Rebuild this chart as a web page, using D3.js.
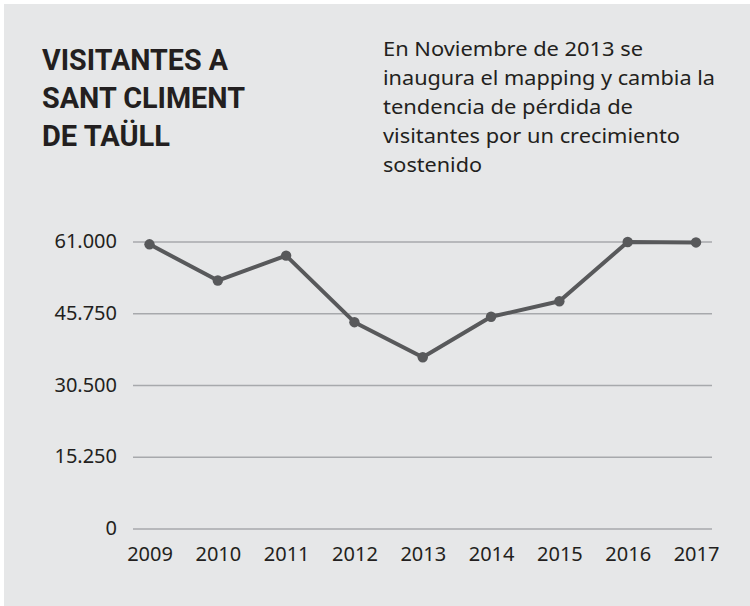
<!DOCTYPE html>
<html>
<head>
<meta charset="utf-8">
<script src="https://cdn.jsdelivr.net/npm/d3@7"></script>
<style>
  html, body { margin: 0; padding: 0; background: #ffffff; }
  svg { display: block; }
</style>
</head>
<body>
<svg id="chart" width="750" height="606"></svg>
<script>
// Annual visitors, Sant Climent de Taüll
const years = ["2009", "2010", "2011", "2012", "2013", "2014", "2015", "2016", "2017"];
const visitors = [60400, 52700, 58000, 43850, 36400, 45000, 48300, 60900, 60800];
const yTicks = [0, 15250, 30500, 45750, 61000];
const titleLines = ["VISITANTES A", "SANT CLIMENT", "DE TAÜLL"];
const noteLines = [
  "En Noviembre de 2013 se",
  "inaugura el mapping y cambia la",
  "tendencia de pérdida de",
  "visitantes por un crecimiento",
  "sostenido"
];

const svg = d3.select("#chart");
const bodyFont = "'Noto Sans', 'Open Sans', sans-serif";
const ink = "#231f20";

// panel background
svg.append("rect")
  .attr("x", 4).attr("y", 4)
  .attr("width", 746).attr("height", 602)
  .attr("fill", "#e6e7e8");

// title block
const titleWidths = [186, 203, 128];
svg.append("g").selectAll("text")
  .data(titleLines)
  .join("text")
  .attr("x", 42)
  .attr("y", (d, i) => 70 + i * 37.8)
  .attr("font-family", "Roboto, 'Liberation Sans', sans-serif")
  .attr("font-weight", 700)
  .attr("font-size", 29)
  .attr("fill", ink)
  .attr("textLength", (d, i) => titleWidths[i])
  .attr("lengthAdjust", "spacingAndGlyphs")
  .text(d => d);

// explanatory note
const noteWidths = [260, 332, 250, 297, 99];
svg.append("g").selectAll("text")
  .data(noteLines)
  .join("text")
  .attr("x", 383)
  .attr("y", (d, i) => 56 + i * 29)
  .attr("font-family", bodyFont)
  .attr("font-size", 20)
  .attr("fill", ink)
  .attr("textLength", (d, i) => noteWidths[i])
  .attr("lengthAdjust", "spacingAndGlyphs")
  .text(d => d);

// scales
const x = d3.scalePoint().domain(years).range([149.5, 696]);
const y = d3.scaleLinear().domain([0, 61000]).range([528.5, 241.5]);
const gridLeft = 133, gridRight = 712;

const fmt = v => d3.format(",")(v).replace(/,/g, ".");

// horizontal gridlines and value labels
const yAxis = d3.axisLeft(y)
  .tickValues(yTicks)
  .tickSize(-(gridRight - gridLeft))
  .tickPadding(16)
  .tickFormat(fmt);

const gy = svg.append("g")
  .attr("transform", `translate(${gridLeft},0)`)
  .call(yAxis);
gy.select(".domain").remove();
gy.selectAll(".tick line")
  .attr("stroke", "#a7a9ac")
  .attr("stroke-width", 1.6);
gy.selectAll(".tick text")
  .attr("font-family", bodyFont)
  .attr("font-size", 20)
  .attr("fill", ink)
  .attr("dy", "0.3em");

// year labels
const xAxis = d3.axisBottom(x).tickSize(0).tickPadding(0);
const gx = svg.append("g")
  .attr("transform", `translate(0,${y(0)})`)
  .call(xAxis);
gx.select(".domain").remove();
gx.selectAll(".tick text")
  .attr("font-family", bodyFont)
  .attr("font-size", 20)
  .attr("fill", ink)
  .attr("dy", null)
  .attr("y", 32);

// visitor line
const line = d3.line()
  .x((d, i) => x(years[i]))
  .y(d => y(d));

svg.append("path")
  .datum(visitors)
  .attr("d", line)
  .attr("fill", "none")
  .attr("stroke", "#58595b")
  .attr("stroke-width", 4)
  .attr("stroke-linejoin", "round");

svg.append("g").selectAll("circle")
  .data(visitors)
  .join("circle")
  .attr("cx", (d, i) => x(years[i]))
  .attr("cy", d => y(d))
  .attr("r", 5.2)
  .attr("fill", "#58595b");
</script>
</body>
</html>
